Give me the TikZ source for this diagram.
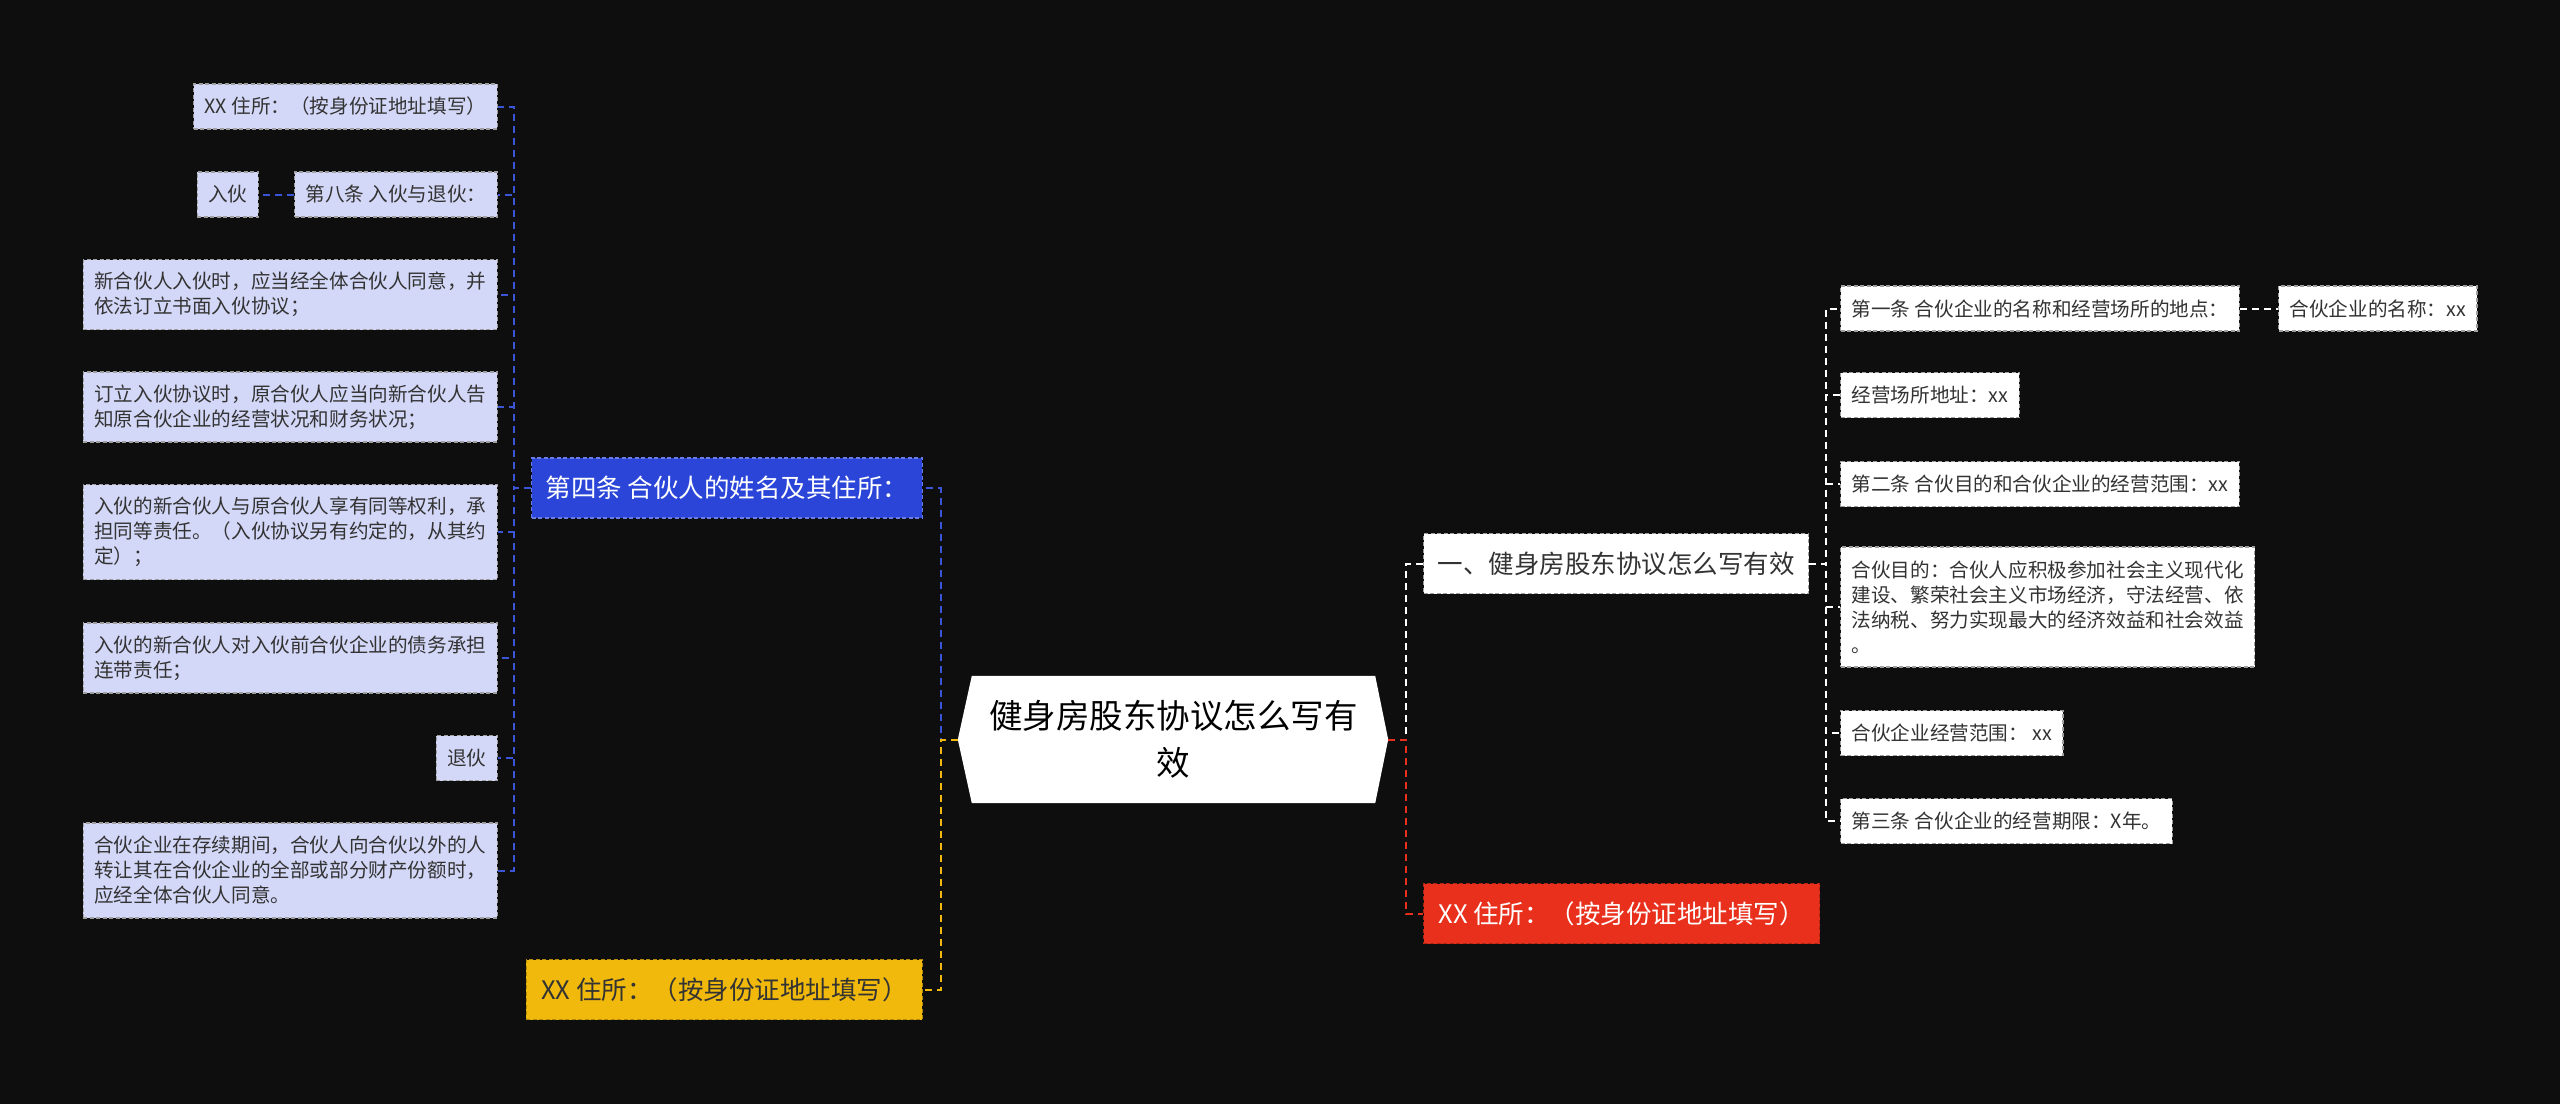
\documentclass[tikz,border=0pt]{standalone}
\usepackage{fontspec}
\setmainfont{Noto Sans CJK SC}
\usetikzlibrary{calc}
\pgfdeclarelayer{bg}
\pgfsetlayers{bg,main}
\definecolor{bgc}{HTML}{0E0E0E}
\definecolor{leafblue}{HTML}{D4D8F8}
\definecolor{nblue}{HTML}{2A45D8}
\definecolor{lblue}{HTML}{3A55D8}
\definecolor{nyel}{HTML}{F0B90B}
\definecolor{nred}{HTML}{E8301C}
\definecolor{txt}{HTML}{333333}
\begin{document}
\begin{tikzpicture}[x=1pt,y=-1pt,
  conn/.style={line width=2pt, dash pattern=on 7pt off 5pt},
  boxbase/.style={dash pattern=on 4pt off 2.5pt, line width=1.3pt, align=left},
  lleaf/.style={boxbase, draw=gray!75, fill=leafblue, text=txt,
    font=\fontsize{19.6}{25}\selectfont, inner xsep=11pt, inner ysep=4pt, anchor=east},
  rleaf/.style={boxbase, draw=gray!75, fill=white, text=txt,
    font=\fontsize{19.6}{25}\selectfont, inner xsep=11pt, inner ysep=4pt, anchor=west},
  hA/.style={minimum height=45pt},
  hB/.style={minimum height=70pt},
  hC/.style={minimum height=95pt},
  hD/.style={minimum height=120pt},
  lvltwo/.style={boxbase, font=\fontsize{25.5}{30}\selectfont, inner xsep=14pt,
    inner ysep=4pt, minimum height=60pt},
  rootbox/.style={font=\fontsize{33.5}{47}\selectfont, align=center, text=black,
    minimum width=403pt, minimum height=127pt, inner sep=0pt}
]
\begin{pgfonlayer}{bg}
\fill[bgc] (0,0) rectangle (2560,1104);
\end{pgfonlayer}
\useasboundingbox (0,0) rectangle (2560,1104);

% root
\node[rootbox] (root) at (1173.5,739.5) {健身房股东协议怎么写有\\效};
\begin{pgfonlayer}{bg}
\fill[white] (root.north west) -- (root.north east) -- ($(root.east)+(13,0)$)
  -- (root.south east) -- (root.south west) -- ($(root.west)+(-14,0)$) -- cycle;
\end{pgfonlayer}
\coordinate (rootL) at ($(root.west)+(-14,0)$);
\coordinate (rootR) at ($(root.east)+(13,0)$);

% level two
\node[lvltwo, minimum width=389pt, fill=nblue, draw=nblue!70!white, text=white, anchor=east] (n4) at (923,488) {第四条 合伙人的姓名及其住所：};
\node[lvltwo, minimum width=396pt, fill=nyel, draw=nyel!75!black, text=txt, anchor=east] (ny) at (923,989.5) {XX 住所：（按身份证地址填写）};
\node[lvltwo, minimum width=382pt, fill=white, draw=gray!75, text=txt, anchor=west] (n1) at (1423,563.5) {一、健身房股东协议怎么写有效};
\node[lvltwo, minimum width=396pt, fill=nred, draw=nred!75!black, text=white, anchor=west] (nr) at (1423,913.5) {XX 住所：（按身份证地址填写）};

% left leaves
\node[lleaf, hA] (a1) at (498,106.5) {XX 住所：（按身份证地址填写）};
\node[lleaf, hA] (a2) at (498,194.5) {第八条 入伙与退伙：};
\node[lleaf, hA] (a2b) at (259,194.5) {入伙};
\node[lleaf, hB] (a3) at (498,294.5) {新合伙人入伙时，应当经全体合伙人同意，并\\依法订立书面入伙协议；};
\node[lleaf, hB] (a4) at (498,407) {订立入伙协议时，原合伙人应当向新合伙人告\\知原合伙企业的经营状况和财务状况；};
\node[lleaf, hC] (a5) at (498,532) {入伙的新合伙人与原合伙人享有同等权利，承\\担同等责任。（入伙协议另有约定的，从其约\\定）；};
\node[lleaf, hB] (a6) at (498,658) {入伙的新合伙人对入伙前合伙企业的债务承担\\连带责任；};
\node[lleaf, hA] (a7) at (498,758) {退伙};
\node[lleaf, hC] (a8) at (498,870.5) {合伙企业在存续期间，合伙人向合伙以外的人\\转让其在合伙企业的全部或部分财产份额时，\\应经全体合伙人同意。};

% right leaves
\node[rleaf, hA] (b1) at (1840,308.5) {第一条 合伙企业的名称和经营场所的地点：};
\node[rleaf, hA] (b1b) at (2278,308.5) {合伙企业的名称：xx};
\node[rleaf, hA] (b2) at (1840,395) {经营场所地址：xx};
\node[rleaf, hA] (b3) at (1840,484) {第二条 合伙目的和合伙企业的经营范围：xx};
\node[rleaf, hD] (b4) at (1840,607) {合伙目的：合伙人应积极参加社会主义现代化\\建设、繁荣社会主义市场经济，守法经营、依\\法纳税、努力实现最大的经济效益和社会效益\\。};
\node[rleaf, hA] (b5) at (1840,733) {合伙企业经营范围：\ xx};
\node[rleaf, hA] (b6) at (1840,821) {第三条 合伙企业的经营期限：X年。};

% connectors from root
\draw[conn, lblue] (rootL) -- ++(-17,0) |- (n4.east);
\draw[conn, nyel] (rootL) -- ++(-17,0) |- (ny.east);
\draw[conn, white] (rootR) -- ++(18,0) |- (n1.west);
\draw[conn, nred] (rootR) -- ++(18,0) |- (nr.west);

% left branch
\foreach \c in {a1,a2,a3,a4,a5,a6,a7,a8}
  \draw[conn, lblue] (n4.west) -- ++(-17,0) |- (\c.east);
\draw[conn, lblue] (a2.west) -- (a2b.east);

% right branch
\foreach \c in {b1,b2,b3,b4,b5,b6}
  \draw[conn, white] (n1.east) -- ++(17,0) |- (\c.west);
\draw[conn, white] (b1.east) -- (b1b.west);
\end{tikzpicture}
\end{document}
